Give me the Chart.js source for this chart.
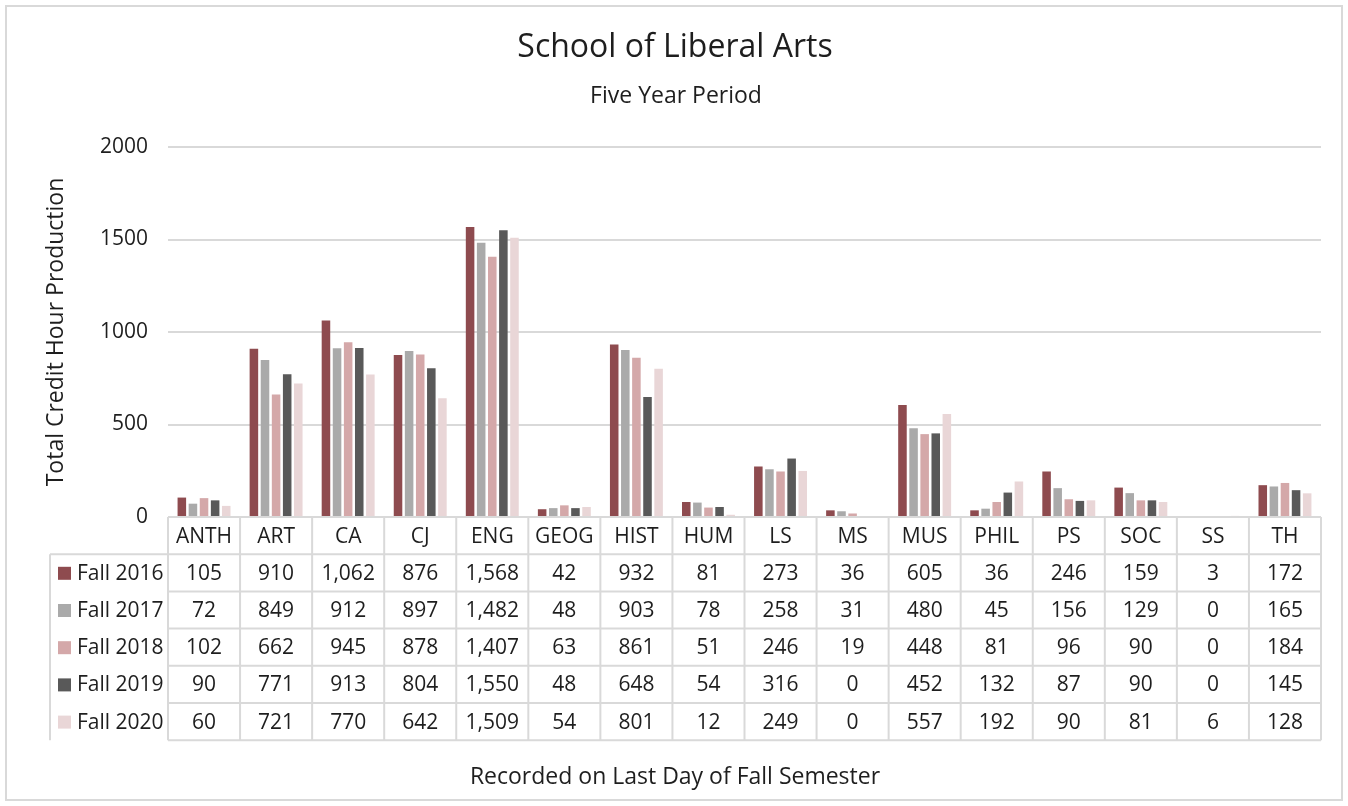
<!DOCTYPE html>
<html>
<head>
<meta charset="utf-8">
<title>School of Liberal Arts</title>
<script src="https://cdn.jsdelivr.net/npm/chart.js@4/dist/chart.umd.min.js"></script>
<style>
  body { margin: 0; background: #fff; }
  #wrap { width: 1348px; height: 806px; }
</style>
</head>
<body>
<div id="wrap"><canvas id="myChart" width="1348" height="806"></canvas></div>
<script>
var departments = ['ANTH', 'ART', 'CA', 'CJ', 'ENG', 'GEOG', 'HIST', 'HUM', 'LS', 'MS', 'MUS', 'PHIL', 'PS', 'SOC', 'SS', 'TH']

var fall2016 = [105, 910, 1062, 876, 1568, 42, 932, 81, 273, 36, 605, 36, 246, 159, 3, 172]
var fall2017 = [72, 849, 912, 897, 1482, 48, 903, 78, 258, 31, 480, 45, 156, 129, 0, 165]
var fall2018 = [102, 662, 945, 878, 1407, 63, 861, 51, 246, 19, 448, 81, 96, 90, 0, 184]
var fall2019 = [90, 771, 913, 804, 1550, 48, 648, 54, 316, 0, 452, 132, 87, 90, 0, 145]
var fall2020 = [60, 721, 770, 642, 1509, 54, 801, 12, 249, 0, 557, 192, 90, 81, 6, 128]

var semesters = ['Fall 2016', 'Fall 2017', 'Fall 2018', 'Fall 2019', 'Fall 2020']
var colores = ['#8e4b4f', '#aaaaaa', '#d4a8a9', '#595959', '#e9d6d7']

var yTicks = [0, 500, 1000, 1500, 2000]

var fonte = '"Open Sans", sans-serif'
var texto = '#1e1e1e'
var linha = '#d9d9d9'

function numero(v) {
  return v.toLocaleString('en-US')
}

// titles, outer frame and the data table under the bars
var extras = {
  id: 'extras',
  beforeDraw: function(chart) {
    var ctx = chart.ctx
    ctx.save()
    ctx.fillStyle = '#fff'
    ctx.fillRect(0, 0, chart.width, chart.height)
    ctx.strokeStyle = linha
    ctx.lineWidth = 2
    ctx.strokeRect(6, 6, 1336, 794)
    ctx.restore()
  },
  afterDraw: function(chart) {
    var ctx = chart.ctx
    var area = chart.chartArea
    var x = chart.scales.x
    var series = chart.data.datasets
    var largura = (area.right - area.left) / departments.length
    var topo = area.bottom
    var alt = 37.2
    var esquerda = 50

    ctx.save()
    ctx.fillStyle = texto
    ctx.textAlign = 'center'
    ctx.textBaseline = 'middle'

    ctx.font = '32px ' + fonte
    ctx.fillText('School of Liberal Arts', 675, 48)
    ctx.font = '23px ' + fonte
    ctx.fillText('Five Year Period', 676, 96)
    ctx.fillText('Recorded on Last Day of Fall Semester', 675, 777)

    ctx.save()
    ctx.translate(56, 332)
    ctx.rotate(-Math.PI / 2)
    ctx.fillText('Total Credit Hour Production', 0, 0)
    ctx.restore()

    // grid of the table
    ctx.strokeStyle = linha
    ctx.lineWidth = 2
    ctx.beginPath()
    ctx.moveTo(area.left, topo)
    ctx.lineTo(area.right, topo)
    for (var r = 1; r <= series.length + 1; r++) {
      ctx.moveTo(r == 1 ? esquerda : area.left, topo + r * alt)
      ctx.lineTo(area.right, topo + r * alt)
    }
    ctx.moveTo(esquerda, topo + alt)
    ctx.lineTo(esquerda, topo + (series.length + 1) * alt)
    for (var c = 0; c <= departments.length; c++) {
      var cx = area.left + c * largura
      ctx.moveTo(cx, topo)
      ctx.lineTo(cx, topo + (series.length + 1) * alt)
    }
    ctx.stroke()

    ctx.font = '21px ' + fonte
    ctx.fillStyle = texto
    departments.forEach(function(d, i) {
      ctx.fillText(d, x.getPixelForValue(i), topo + alt / 2 + 1)
    })

    series.forEach(function(ds, s) {
      var cy = topo + (s + 1) * alt + alt / 2 + 1
      ctx.fillStyle = ds.backgroundColor
      ctx.fillRect(58, cy - 7, 13, 13)
      ctx.fillStyle = texto
      ctx.textAlign = 'left'
      ctx.fillText(ds.label, 77, cy)
      ctx.textAlign = 'center'
      ds.data.forEach(function(v, i) {
        ctx.fillText(numero(v), x.getPixelForValue(i), cy)
      })
    })
    ctx.restore()
  }
}

var dados = [fall2016, fall2017, fall2018, fall2019, fall2020]

var ctx = document.getElementById('myChart').getContext('2d')
var chart = new Chart(ctx, {
  type: 'bar',
  data: {
    labels: departments,
    datasets: semesters.map(function(s, i) {
      return {
        label: s,
        data: dados[i],
        backgroundColor: colores[i],
        categoryPercentage: 0.77,
        barPercentage: 0.77
      }
    })
  },
  options: {
    responsive: false,
    animation: false,
    layout: { padding: { left: 0, top: 147, right: 27, bottom: 289 } },
    plugins: {
      legend: { display: false },
      tooltip: { enabled: false }
    },
    scales: {
      x: { display: false },
      y: {
        min: 0,
        max: 2000,
        afterFit: function(scale) { scale.width = 168 },
        afterBuildTicks: function(scale) {
          scale.ticks = yTicks.map(function(v) { return { value: v } })
        },
        border: { display: false },
        grid: { color: linha, lineWidth: 2, drawTicks: false },
        ticks: {
          padding: 20,
          color: texto,
          font: { family: fonte, size: 21 },
          callback: function(v) { return String(v) }
        }
      }
    }
  },
  plugins: [extras]
})
</script>
</body>
</html>
